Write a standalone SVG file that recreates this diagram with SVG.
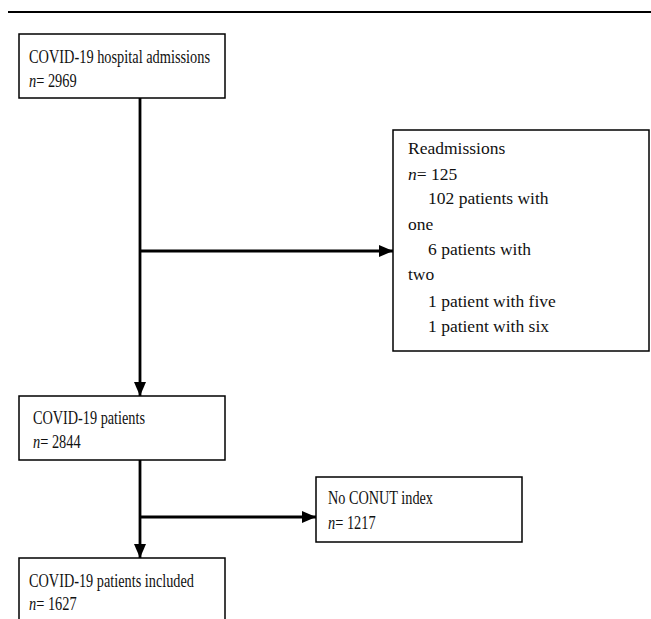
<svg xmlns="http://www.w3.org/2000/svg" width="651" height="619" viewBox="0 0 651 619">
<defs>
<marker id="ah" viewBox="0 0 14 12" refX="14" refY="6" markerWidth="14" markerHeight="12" markerUnits="userSpaceOnUse" orient="auto">
<path d="M0,0 L14,6 L0,12 Z" fill="#000"/>
</marker>
<style>
.box{fill:#fff;stroke:#000;stroke-width:1.5}
.t{font-family:"Liberation Serif","Times New Roman",serif;font-size:18px;fill:#111}
.r{font-family:"Liberation Serif","Times New Roman",serif;font-size:17.5px;fill:#111}
.ln{stroke:#000;stroke-width:2.8;fill:none}
</style>
</defs>
<rect width="651" height="619" fill="#fff"/>
<line x1="8" y1="12" x2="651" y2="12" stroke="#000" stroke-width="2"/>
<g id="connectors">
<line class="ln" x1="140" y1="98" x2="140" y2="396" marker-end="url(#ah)"/>
<line class="ln" x1="140" y1="251" x2="393" y2="251" marker-end="url(#ah)"/>
<line class="ln" x1="140" y1="460" x2="140" y2="558" marker-end="url(#ah)"/>
<line class="ln" x1="140" y1="517" x2="316" y2="517" marker-end="url(#ah)"/>
</g>
<g id="n1">
<rect class="box" x="19" y="34" width="206" height="64"/>
<text class="t" x="29" y="63" textLength="181" lengthAdjust="spacingAndGlyphs">COVID-19 hospital admissions</text>
<text class="t" transform="translate(29,87) scale(0.8,1)"><tspan font-style="italic">n</tspan>= 2969</text>
</g>
<g id="n2">
<rect class="box" x="393" y="130" width="256" height="221"/>
<text class="r" x="408" y="154">Readmissions</text>
<text class="r" x="408" y="180"><tspan font-style="italic">n</tspan>= 125</text>
<text class="r" x="428" y="204">102 patients with</text>
<text class="r" x="408" y="230">one</text>
<text class="r" x="428" y="255">6 patients with</text>
<text class="r" x="408" y="280">two</text>
<text class="r" x="428" y="307">1 patient with five</text>
<text class="r" x="428" y="332">1 patient with six</text>
</g>
<g id="n3">
<rect class="box" x="19" y="396" width="206" height="64"/>
<text class="t" x="33" y="424" textLength="112" lengthAdjust="spacingAndGlyphs">COVID-19 patients</text>
<text class="t" transform="translate(33,448) scale(0.8,1)"><tspan font-style="italic">n</tspan>= 2844</text>
</g>
<g id="n4">
<rect class="box" x="316" y="477" width="206" height="65"/>
<text class="t" x="328" y="504" textLength="105" lengthAdjust="spacingAndGlyphs">No CONUT index</text>
<text class="t" transform="translate(328,529) scale(0.8,1)"><tspan font-style="italic">n</tspan>= 1217</text>
</g>
<g id="n5">
<rect class="box" x="19" y="558" width="206" height="70"/>
<text class="t" x="29" y="587" textLength="165" lengthAdjust="spacingAndGlyphs">COVID-19 patients included</text>
<text class="t" transform="translate(29,610) scale(0.8,1)"><tspan font-style="italic">n</tspan>= 1627</text>
</g>
</svg>
